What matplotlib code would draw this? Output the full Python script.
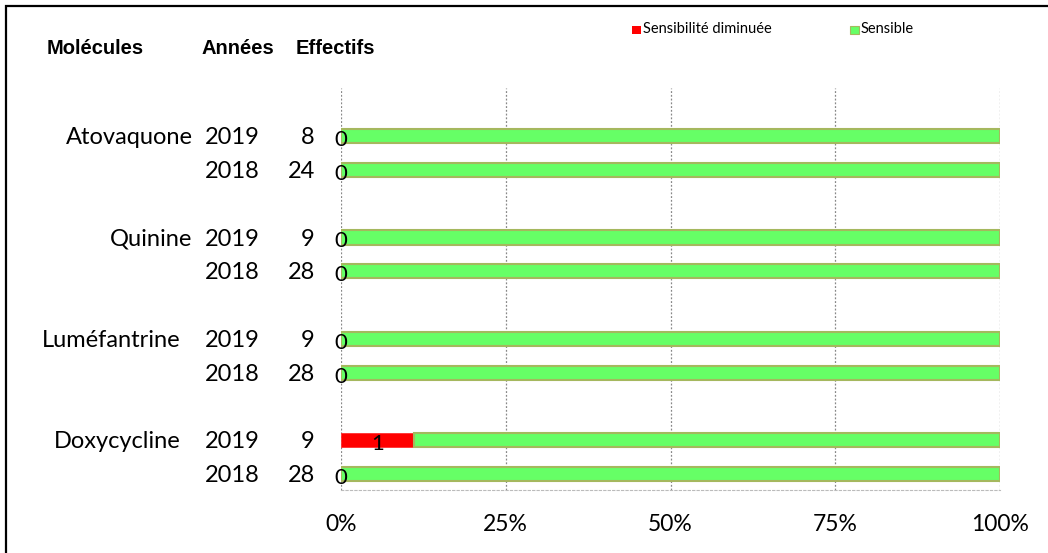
import matplotlib.pyplot as plt
import matplotlib.transforms as mtrans
from matplotlib.patches import Rectangle
import numpy as np

molecules = ['Atovaquone', 'Quinine', 'Luméfantrine', 'Doxycycline']
years = ['2019', '2018'] * 4
effectifs = [8, 24, 9, 28, 9, 28, 9, 28]
diminuee = [0, 0, 0, 0, 0, 0, 1, 0]

# rows with a blank slot between each molecule
rows = np.array([0, 1, 3, 4, 6, 7, 9, 10])
eff = np.array(effectifs)
dim = np.array(diminuee)
pct_dim = dim / eff * 100
pct_sens = 100 - pct_dim

fig = plt.figure(figsize=(10.48, 5.53), dpi=100)
ax = fig.add_axes([341/1048, 1-490/553, 659/1048, 402/553])

ax.barh(rows, pct_dim, height=0.42, color='#FF0000', edgecolor='#FF3030', linewidth=0.6)
ax.barh(rows, pct_sens, left=pct_dim, height=0.42, color='#66FF66',
        edgecolor='#A5B85E', linewidth=1.5)

for r, p, d in zip(rows, pct_dim, dim):
    ax.text(p / 2, r + 0.12, str(d), ha='center', va='center', fontsize=16,
            family='Lato', color='black')

ax.set_xlim(0, 100)
ax.set_ylim(10.47, -1.42)
ax.set_xticks([0, 25, 50, 75, 100])
ax.set_xticklabels(['0%', '25%', '50%', '75%', '100%'], family='Lato', fontsize=16.5)
ax.set_yticks([])
ax.tick_params(axis='x', length=0, pad=17)
for s in ['top', 'right', 'left']:
    ax.spines[s].set_visible(False)
ax.spines['bottom'].set_color('#BBBBBB')
ax.spines['bottom'].set_linestyle((0, (2, 2)))
ax.spines['bottom'].set_linewidth(0.8)
ax.set_axisbelow(True)
ax.grid(axis='x', color='#888888', linestyle=(0, (1.5, 1.5)), linewidth=0.9)

tr = mtrans.blended_transform_factory(fig.transFigure, ax.transData)
name_right = [193, 192, 181, 181]
for i, m in enumerate(molecules):
    ax.text(name_right[i] / 1048, rows[2 * i] + 0.05, m, transform=tr, ha='right',
            va='center', fontsize=17, family='Lato')
for r, y, e in zip(rows, years, effectifs):
    ax.text(260 / 1048, r + 0.05, y, transform=tr, ha='right', va='center',
            fontsize=17, family='Lato')
    ax.text(315 / 1048, r + 0.05, str(e), transform=tr, ha='right', va='center',
            fontsize=17, family='Lato')

hdr = dict(fontsize=14.5, fontweight='bold', family='Liberation Sans', va='center')
fig.text(95 / 1048, 1 - 48 / 553, 'Molécules', ha='center', **hdr)
fig.text(238 / 1048, 1 - 48 / 553, 'Années', ha='center', **hdr)
fig.text(296 / 1048, 1 - 48 / 553, 'Effectifs', ha='left', **hdr)

# legend
fig.patches.append(Rectangle((632 / 1048, 1 - 34 / 553), 9 / 1048, 8 / 553,
                             transform=fig.transFigure, facecolor='#FF0000',
                             edgecolor='none'))
fig.text(643 / 1048, 1 - 29 / 553, 'Sensibilité diminuée', fontsize=10.5,
         family='Lato', va='center')
fig.patches.append(Rectangle((850 / 1048, 1 - 34 / 553), 9 / 1048, 8 / 553,
                             transform=fig.transFigure, facecolor='#66FF66',
                             edgecolor='#A5B85E', linewidth=0.8))
fig.text(861 / 1048, 1 - 29 / 553, 'Sensible', fontsize=10.5, family='Lato',
         va='center')

# outer frame
fig.patches.append(Rectangle((6 / 1048, -0.1), 1.2, 1.1 - 6 / 553,
                             transform=fig.transFigure, fill=False,
                             edgecolor='black', linewidth=1.6))

plt.savefig('out.png', dpi=100)
